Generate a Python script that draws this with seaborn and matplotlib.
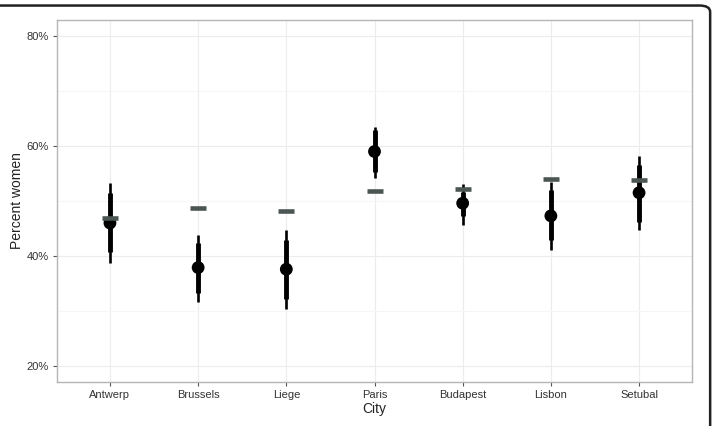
import numpy as np
import pandas as pd
import matplotlib.pyplot as plt
import seaborn as sns
from matplotlib.patches import FancyBboxPatch
from matplotlib.ticker import FixedLocator, FuncFormatter

cities = ['Antwerp', 'Brussels', 'Liege', 'Paris', 'Budapest', 'Lisbon', 'Setubal']
estimate = [46.0, 37.9, 37.6, 59.0, 49.6, 47.3, 51.5]
outer_lo = [38.8, 31.7, 30.4, 54.1, 45.6, 41.1, 44.7]
outer_hi = [53.2, 43.9, 44.7, 63.5, 53.1, 53.5, 58.1]
inner_lo = [40.8, 33.2, 32.1, 55.3, 47.3, 42.9, 46.2]
inner_hi = [51.5, 42.3, 42.9, 62.9, 51.7, 52.0, 56.5]
reference = [46.9, 48.8, 48.1, 51.8, 52.2, 54.0, 53.8]

df = pd.DataFrame({'City': cities, 'est': estimate, 'ref': reference})

sns.set_theme(style='whitegrid')
plt.rcParams['font.family'] = ['Liberation Sans', 'DejaVu Sans']

fig = plt.figure(figsize=(7.13, 4.26), dpi=100)
ax = fig.add_axes([0.080, 0.1033, 0.8905, 0.8497])

# intervals
ax.vlines(df['City'], outer_lo, outer_hi, color='black', lw=1.9, zorder=3)
ax.vlines(df['City'], inner_lo, inner_hi, color='black', lw=3.5, zorder=4)

sns.scatterplot(data=df, x='City', y='est', color='black', s=85,
                edgecolor='none', zorder=5, ax=ax)
ax.plot(df['City'], df['ref'], linestyle='none', marker='_', ms=11, mew=3.3,
        color='#4b5553', zorder=6)

ax.set_xlim(-0.6, 6.6)
ax.set_ylim(17.1, 82.9)
ax.yaxis.set_major_locator(FixedLocator([20, 40, 60, 80]))
ax.yaxis.set_minor_locator(FixedLocator([30, 50, 70]))
ax.yaxis.set_major_formatter(FuncFormatter(lambda v, p: f'{v:.0f}%'))

ax.grid(True, which='major', color='#ececec', lw=0.8)
ax.grid(True, which='minor', axis='y', color='#f6f6f6', lw=0.8)
ax.set_axisbelow(True)
for s in ax.spines.values():
    s.set_color('#b5b5b5')
    s.set_linewidth(1)

ax.tick_params(axis='both', which='major', length=3, width=0.8, color='#555555',
               labelsize=8, labelcolor='#333333', pad=3, bottom=True, left=True)
ax.tick_params(axis='both', which='minor', length=0)
ax.set_xlabel('City', fontsize=10, color='#222222', labelpad=1.5)
ax.set_ylabel('Percent women', fontsize=10, color='#222222', labelpad=1.5)

# rounded frame of the screenshot
frame = FancyBboxPatch((-0.05, -0.05), 1.046, 1.037, boxstyle='round,pad=0,rounding_size=0.015',
                       transform=fig.transFigure, fill=False, ec='#222222', lw=1.8,
                       clip_on=False)
fig.patches.append(frame)

fig.savefig('out.png', dpi=100)
